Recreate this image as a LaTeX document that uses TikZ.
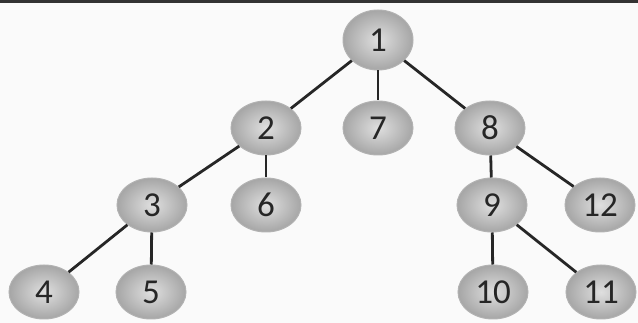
\documentclass[tikz,border=0pt]{standalone}
\usepackage{fontspec}
\setmainfont{Carlito}
\usetikzlibrary{shapes.geometric}
\begin{document}
\begin{tikzpicture}[x=1pt,y=-1pt,
  vert/.style={ellipse, minimum width=70pt, minimum height=54pt, inner sep=0pt,
    inner color=gray!25, outer color=gray!70, draw=gray!60, line width=1pt,
    font=\fontsize{35}{36}\selectfont, text=black!85},
  edge/.style={line width=2.8pt, draw=black!85}]
\fill[gray!4] (0,0) rectangle (638,323);
\useasboundingbox (0,0) rectangle (638,323);
\fill[black!80] (0,0) rectangle (638,3);
\node[vert, minimum height=60pt] (n1) at (378,40) {1};
\node[vert] (n2) at (266,128) {2};
\node[vert] (n7) at (378,128) {7};
\node[vert] (n8) at (490,128) {8};
\node[vert] (n3) at (152,205) {3};
\node[vert] (n6) at (266,205) {6};
\node[vert] (n9) at (492,205) {9};
\node[vert] (n12) at (600,205) {12};
\node[vert] (n4) at (44,292) {4};
\node[vert] (n5) at (151,292) {5};
\node[vert] (n10) at (493,292) {10};
\node[vert] (n11) at (601,292) {11};
\draw[edge] (n1) -- (n2);
\draw[edge] (n1) -- (n7);
\draw[edge] (n1) -- (n8);
\draw[edge] (n2) -- (n3);
\draw[edge] (n2) -- (n6);
\draw[edge] (n3) -- (n4);
\draw[edge] (n3) -- (n5);
\draw[edge] (n8) -- (n9);
\draw[edge] (n8) -- (n12);
\draw[edge] (n9) -- (n10);
\draw[edge] (n9) -- (n11);
\end{tikzpicture}
\end{document}
